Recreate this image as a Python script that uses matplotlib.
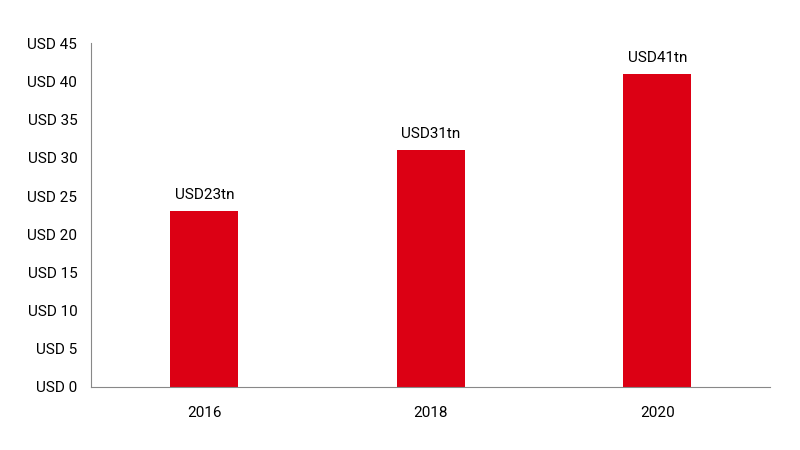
import matplotlib
matplotlib.use("Agg")
import matplotlib.pyplot as plt

years = ["2016", "2018", "2020"]
values = [23, 31, 41]
labels = ["USD23tn", "USD31tn", "USD41tn"]
yticks = [0, 5, 10, 15, 20, 25, 30, 35, 40, 45]

plt.rcParams['font.family'] = ['Roboto', 'DejaVu Sans']
fig = plt.figure(figsize=(8, 4.5), dpi=100)
ax = fig.add_axes([0.114, 0.14, 0.849, 0.764])
x = range(len(years))
bars = ax.bar(x, values, width=0.3, color="#dc0014")
for b, l in zip(bars, labels):
    ax.text(b.get_x() + b.get_width() / 2, b.get_height() + 1.2, l,
            ha="center", va="bottom", fontsize=11)
ax.set_xlim(-0.5, 2.5)
ax.set_ylim(0, 45)
ax.set_xticks(list(x))
ax.set_xticklabels(years, fontsize=11)
ax.set_yticks(yticks)
ax.set_yticklabels([f"USD {v}" for v in yticks], fontsize=11)
ax.tick_params(length=0, pad=10)
ax.tick_params(axis='x', pad=14)
for s in ["top", "right"]:
    ax.spines[s].set_visible(False)
for s in ["left", "bottom"]:
    ax.spines[s].set_color("#888888")
fig.savefig("out.png")
